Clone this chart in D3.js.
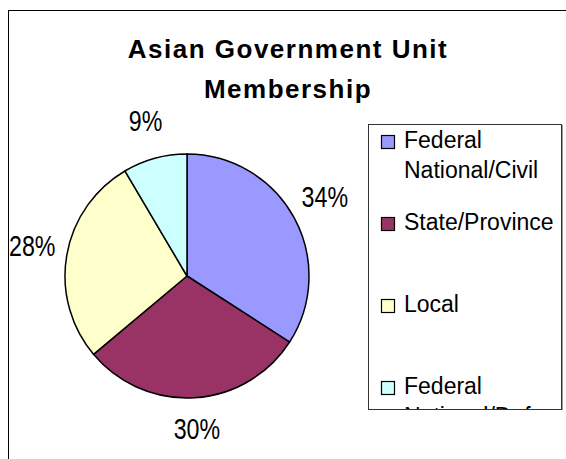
<!DOCTYPE html>
<html>
<head>
<meta charset="utf-8">
<script src="https://cdn.jsdelivr.net/npm/d3@7"></script>
<style>
  html, body { margin: 0; padding: 0; background: #fff; }
  svg { display: block; }
</style>
</head>
<body>
<script>
// ---- data ----
const titleLines = ["Asian Government Unit", "Membership"];
const categories = ["Federal National/Civil", "State/Province", "Local", "Federal National/Defense"];
const legendLines = [["Federal", "National/Civil"], ["State/Province"], ["Local"], ["Federal", "National/Defense"]];
const values = [34.1, 29.8, 27.6, 8.5];
const colors = ["#9999FF", "#993366", "#FFFFCC", "#CCFFFF"];

const W = 566, H = 459;
const svg = d3.select("body").append("svg").attr("width", W).attr("height", H);

// outer chart border (extends past the picture edges)
svg.append("rect").attr("x", 8.5).attr("y", 10.5).attr("width", 700).attr("height", 600)
  .attr("fill", "#fff").attr("stroke", "#000").attr("stroke-width", 1);

// title
const title = svg.append("text").attr("text-anchor", "middle")
  .attr("font-family", "'Liberation Sans', Arial, sans-serif")
  .attr("font-weight", "bold").attr("font-size", 26).attr("letter-spacing", 1.5)
  .attr("fill", "#000");
titleLines.forEach((t, i) => {
  title.append("tspan").attr("x", 288).attr("y", 58 + i * 40).text(t);
});

// pie
const cx = 187, cy = 276, R = 122, labelR = 157;
const pie = d3.pie().sort(null).value(d => d)(values);
const arc = d3.arc().innerRadius(0).outerRadius(R);
const labelArc = d3.arc().innerRadius(labelR).outerRadius(labelR);
const g = svg.append("g").attr("transform", `translate(${cx},${cy})`);
g.selectAll("path.slice").data(pie).join("path")
  .attr("class", "slice")
  .attr("d", arc)
  .attr("fill", (d, i) => colors[i])
  .attr("stroke", "#000").attr("stroke-width", 1.5).attr("stroke-linejoin", "round");

const total = d3.sum(values);
g.selectAll("text.pct").data(pie).join("text")
  .attr("class", "pct")
  .attr("transform", d => { const [x, y] = labelArc.centroid(d); return `translate(${x},${y}) scale(0.8,1)`; })
  .attr("text-anchor", "middle").attr("dy", "0.22em")
  .attr("font-family", "'Liberation Sans', Arial, sans-serif").attr("font-size", 29)
  .attr("fill", "#000")
  .text(d => Math.round(d.value / total * 100) + "%");

// legend
const lx = 368, ly = 124, lw = 193, lh = 285;
svg.append("clipPath").attr("id", "legclip").append("rect")
  .attr("x", lx).attr("y", ly).attr("width", lw).attr("height", lh);
svg.append("rect").attr("x", lx + 0.5).attr("y", ly + 0.5).attr("width", lw).attr("height", lh)
  .attr("fill", "#fff").attr("stroke", "#333").attr("stroke-width", 1);
svg.append("line").attr("x1", lx + lw + 1.5).attr("x2", lx + lw + 1.5).attr("y1", ly + 1).attr("y2", ly + lh + 1)
  .attr("stroke", "#999").attr("stroke-width", 1);

const leg = svg.append("g").attr("clip-path", "url(#legclip)");
const yItem = d3.scaleLinear().domain([0, 3]).range([148, 394]);
categories.forEach((c, i) => {
  const by = yItem(i);
  leg.append("rect").attr("x", 381.5).attr("y", by - 12.5).attr("width", 13).attr("height", 13)
    .attr("fill", colors[i]).attr("stroke", "#000").attr("stroke-width", 1.2);
  const t = leg.append("text").attr("font-family", "'Liberation Sans', Arial, sans-serif")
    .attr("font-size", 23).attr("fill", "#000");
  legendLines[i].forEach((ln, j) => {
    t.append("tspan").attr("x", 404).attr("y", by + j * 30).text(ln);
  });
});
</script>
</body>
</html>
